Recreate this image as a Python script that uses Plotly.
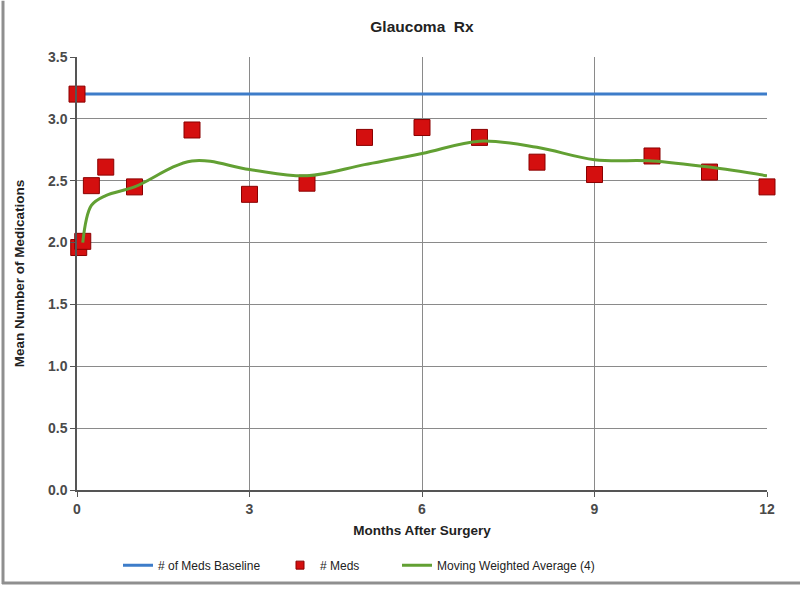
import plotly.graph_objects as go

# Data
baseline_x = [0, 12]
baseline_y = [3.2, 3.2]

meds_x = [0, 0.03, 0.1, 0.25, 0.5, 1, 2, 3, 4, 5, 6, 7, 8, 9, 10, 11, 12]
meds_y = [3.2, 1.96, 2.01, 2.46, 2.61, 2.45, 2.91, 2.39, 2.48, 2.85, 2.93, 2.85, 2.65, 2.55, 2.70, 2.57, 2.45]

mwa_x = [0.1, 0.25, 0.5, 1, 2, 3, 4, 5, 6, 7, 8, 9, 10, 11, 12]
mwa_y = [2.0, 2.30, 2.38, 2.45, 2.66, 2.59, 2.54, 2.63, 2.72, 2.82, 2.77, 2.67, 2.66, 2.61, 2.54]

x_ticks = [0, 3, 6, 9, 12]
y_ticks = [0.0, 0.5, 1.0, 1.5, 2.0, 2.5, 3.0, 3.5]

FONTB = "Liberation Sans, Arial, sans-serif"

L, R, T, B = 77, 33, 57, 97
W, H = 800, 592
PW, PH = W - L - R, H - T - B


def px_x(px):
    return (px - L) / PW


def px_y(py):
    return (H - B - py) / PH


fig = go.Figure()
fig.add_trace(go.Scatter(x=baseline_x, y=baseline_y, mode="lines", name="# of Meds Baseline",
                         line=dict(color="#3d7cc9", width=3), legend="legend"))
fig.add_trace(go.Scatter(x=meds_x, y=meds_y, mode="markers", name="# Meds", cliponaxis=False,
                         showlegend=False,
                         marker=dict(symbol="square", size=16, color="#d40f0f",
                                     line=dict(color="#8a0000", width=1))))
# legend-only entry with a small marker, as in the reference legend
fig.add_trace(go.Scatter(x=[None], y=[None], mode="markers", name="# Meds",
                         marker=dict(symbol="square", size=8, color="#d40f0f",
                                     line=dict(color="#8a0000", width=1)), legend="legend2"))
fig.add_trace(go.Scatter(x=mwa_x, y=mwa_y, mode="lines", name="Moving Weighted Average (4)",
                         line=dict(color="#62a033", width=3, shape="spline", smoothing=1.0),
                         legend="legend3"))

leg_font = dict(family=FONTB, size=12, color="#222222")
leg_y = px_y(571)

fig.update_layout(
    width=W, height=H,
    margin=dict(l=L, r=R, t=T, b=B),
    paper_bgcolor="white", plot_bgcolor="white",
    font=dict(family=FONTB, size=13, color="#333333"),
    title=dict(text="<b>Glaucoma  Rx</b>", x=0.5, xanchor="center", xref="paper",
               y=1 - 27 / H, yanchor="middle",
               font=dict(family=FONTB, size=15.5, color="#222222")),
    xaxis=dict(range=[0, 12], tickvals=x_ticks, ticktext=[f"<b>{v}</b>" for v in x_ticks],
               showgrid=True, gridcolor="#8a8a8a", gridwidth=1,
               showline=True, linecolor="#555555", linewidth=1.5, zeroline=False,
               ticks="outside", ticklen=5, tickcolor="#555555",
               tickfont=dict(family=FONTB, size=14, color="#4a4a4a"),
               title=dict(text="<b>Months After Surgery</b>",
                          font=dict(family=FONTB, size=13.5, color="#222222"), standoff=10)),
    yaxis=dict(range=[0, 3.5], tickvals=y_ticks, ticktext=[f"<b>{v:.1f}</b>" for v in y_ticks],
               showgrid=True, gridcolor="#8a8a8a", gridwidth=1,
               showline=True, linecolor="#555555", linewidth=1.5, zeroline=False,
               ticks="outside", ticklen=5, tickcolor="#555555",
               tickfont=dict(family=FONTB, size=14, color="#4a4a4a"),
               title=dict(text="<b>Mean Number of Medications</b>",
                          font=dict(family=FONTB, size=13.5, color="#222222"), standoff=20)),
    legend=dict(x=px_x(118), xanchor="left", y=leg_y, yanchor="middle", font=leg_font,
                bgcolor="rgba(0,0,0,0)"),
    legend2=dict(x=px_x(280), xanchor="left", y=leg_y, yanchor="middle", font=leg_font,
                 bgcolor="rgba(0,0,0,0)"),
    legend3=dict(x=px_x(397), xanchor="left", y=leg_y, yanchor="middle", font=leg_font,
                 bgcolor="rgba(0,0,0,0)"),
    showlegend=True,
)

# Chart-area border (left and bottom edges visible in reference)
fig.add_shape(type="line", xref="paper", yref="paper", x0=px_x(3), x1=px_x(3), y0=px_y(0), y1=px_y(590),
              line=dict(color="#8f8f8f", width=3))
fig.add_shape(type="line", xref="paper", yref="paper", x0=px_x(2), x1=px_x(800), y0=px_y(589), y1=px_y(589),
              line=dict(color="#8f8f8f", width=3))

fig.write_html("out.html", config={"displayModeBar": False},
               post_script="document.body.style.margin='0px';document.body.style.overflow='hidden';")
